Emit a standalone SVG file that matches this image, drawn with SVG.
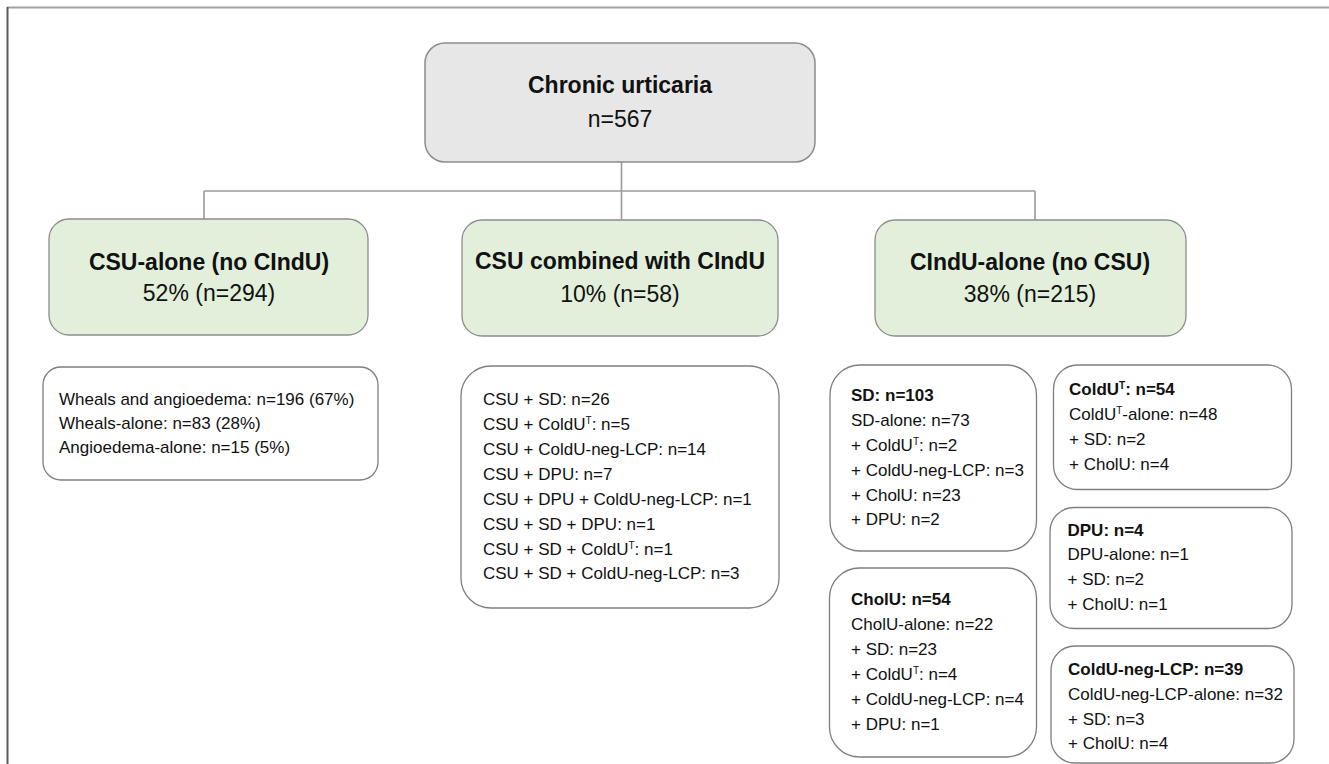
<svg xmlns="http://www.w3.org/2000/svg" width="1329" height="764" viewBox="0 0 1329 764">
<style>
text{font-family:"Liberation Sans",Arial,sans-serif;fill:#111}
.hb{font-size:23px;font-weight:bold;text-anchor:middle}
.hr{font-size:23px;text-anchor:middle}
.t{font-size:17px}
.b{font-weight:bold}
.sup{font-size:10px}
.root{fill:#e7e7e7;stroke:#8c8c8c;stroke-width:1.5}
.grn{fill:#e2efda;stroke:#8c8c8c;stroke-width:1.3}
.wht{fill:#fff;stroke:#7f7f7f;stroke-width:1.3}
.con{fill:none;stroke:#9a9a9a;stroke-width:1.6}
</style>
<rect width="1329" height="764" fill="#fff"/>
<g id="frame">
<line x1="7" y1="7.5" x2="1329" y2="7.5" stroke="#a0a0a0" stroke-width="2"/>
<line x1="7.5" y1="7" x2="7.5" y2="764" stroke="#5a5a5a" stroke-width="2"/>
</g>
<g id="connectors">
<path class="con" d="M621.5 162V219M204 191H1035M204 191V219M1035 191V220"/>
</g>
<g id="root">
<rect class="root" x="425" y="43" width="390" height="119" rx="20"/>
<text class="hb" x="620" y="93">Chronic urticaria</text>
<text class="hr" x="620" y="127">n=567</text>
</g>
<g id="csu-alone">
<rect class="grn" x="49" y="219" width="319" height="116" rx="20"/>
<text class="hb" x="209" y="270">CSU-alone (no CIndU)</text>
<text class="hr" x="209" y="301">52% (n=294)</text>
</g>
<g id="csu-combined">
<rect class="grn" x="462" y="220" width="316" height="116" rx="20"/>
<text class="hb" x="620" y="269">CSU combined with CIndU</text>
<text class="hr" x="620" y="301.5">10% (n=58)</text>
</g>
<g id="cindu-alone">
<rect class="grn" x="875" y="220" width="311" height="116" rx="20"/>
<text class="hb" x="1030" y="270">CIndU-alone (no CSU)</text>
<text class="hr" x="1030" y="301.5">38% (n=215)</text>
</g>
<g id="csu-alone-detail">
<rect class="wht" x="43" y="367" width="335" height="113" rx="18"/>
<text class="t" x="59" y="405">Wheals and angioedema: n=196 (67%)</text>
<text class="t" x="59" y="429">Wheals-alone: n=83 (28%)</text>
<text class="t" x="59" y="453">Angioedema-alone: n=15 (5%)</text>
</g>
<g id="csu-combined-detail">
<rect class="wht" x="461" y="366" width="318" height="242" rx="30"/>
<text class="t" x="483" y="405">CSU + SD: n=26</text>
<text class="t" x="483" y="430">CSU + ColdU<tspan class="sup" dy="-6">T</tspan><tspan dy="6">: n=5</tspan></text>
<text class="t" x="483" y="455">CSU + ColdU-neg-LCP: n=14</text>
<text class="t" x="483" y="479.5">CSU + DPU: n=7</text>
<text class="t" x="483" y="504.5">CSU + DPU + ColdU-neg-LCP: n=1</text>
<text class="t" x="483" y="529.5">CSU + SD + DPU: n=1</text>
<text class="t" x="483" y="554.5">CSU + SD + ColdU<tspan class="sup" dy="-6">T</tspan><tspan dy="6">: n=1</tspan></text>
<text class="t" x="483" y="579">CSU + SD + ColdU-neg-LCP: n=3</text>
</g>
<g id="sd">
<rect class="wht" x="830" y="365" width="206.5" height="186" rx="30"/>
<text class="t b" x="851" y="401">SD: n=103</text>
<text class="t" x="851" y="426">SD-alone: n=73</text>
<text class="t" x="851" y="451">+ ColdU<tspan class="sup" dy="-6">T</tspan><tspan dy="6">: n=2</tspan></text>
<text class="t" x="851" y="476">+ ColdU-neg-LCP: n=3</text>
<text class="t" x="851" y="500.5">+ CholU: n=23</text>
<text class="t" x="851" y="525">+ DPU: n=2</text>
</g>
<g id="cholu">
<rect class="wht" x="829.5" y="568" width="207" height="189" rx="30"/>
<text class="t b" x="851" y="605">CholU: n=54</text>
<text class="t" x="851" y="630">CholU-alone: n=22</text>
<text class="t" x="851" y="655">+ SD: n=23</text>
<text class="t" x="851" y="679.5">+ ColdU<tspan class="sup" dy="-6">T</tspan><tspan dy="6">: n=4</tspan></text>
<text class="t" x="851" y="704.5">+ ColdU-neg-LCP: n=4</text>
<text class="t" x="851" y="729.5">+ DPU: n=1</text>
</g>
<g id="coldu">
<rect class="wht" x="1053.5" y="365" width="238" height="124.5" rx="24"/>
<text class="t b" x="1069" y="395">ColdU<tspan class="sup" dy="-6">T</tspan><tspan dy="6">: n=54</tspan></text>
<text class="t" x="1069" y="420">ColdU<tspan class="sup" dy="-6">T</tspan><tspan dy="6">-alone: n=48</tspan></text>
<text class="t" x="1069" y="445">+ SD: n=2</text>
<text class="t" x="1069" y="469.5">+ CholU: n=4</text>
</g>
<g id="dpu">
<rect class="wht" x="1050" y="507.5" width="242" height="121" rx="24"/>
<text class="t b" x="1067.5" y="536">DPU: n=4</text>
<text class="t" x="1067.5" y="560">DPU-alone: n=1</text>
<text class="t" x="1067.5" y="585">+ SD: n=2</text>
<text class="t" x="1067.5" y="610">+ CholU: n=1</text>
</g>
<g id="coldu-neg-lcp">
<rect class="wht" x="1051" y="646" width="243" height="117" rx="24"/>
<text class="t b" x="1068" y="675">ColdU-neg-LCP: n=39</text>
<text class="t" x="1068" y="699.5">ColdU-neg-LCP-alone: n=32</text>
<text class="t" x="1068" y="724.5">+ SD: n=3</text>
<text class="t" x="1068" y="748.5">+ CholU: n=4</text>
</g>
</svg>
